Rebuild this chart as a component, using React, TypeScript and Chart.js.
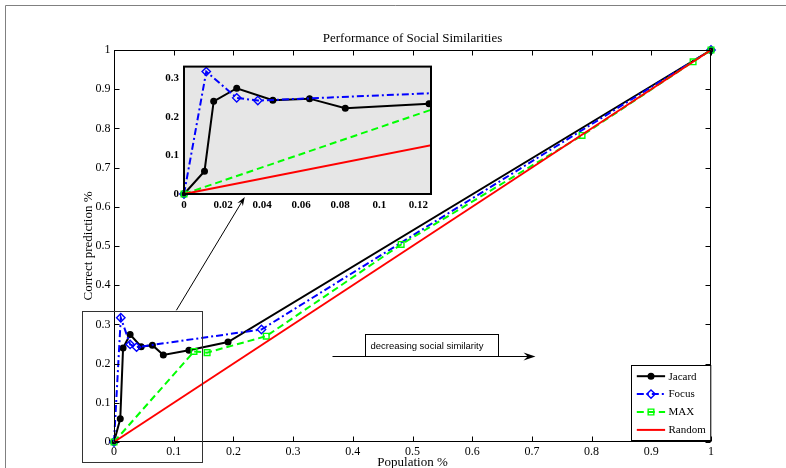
import React, { useEffect, useRef } from "react";
import { Chart, registerables } from "chart.js";

Chart.register(...registerables);

// ---------------- data ----------------
const seriesNames = ["Jacard", "Focus", "MAX", "Random"];

const jacardPop = [0, 0.0105, 0.0152, 0.027, 0.0455, 0.0643, 0.0826, 0.1255, 0.191, 1];
const jacardAcc = [0, 0.059, 0.24, 0.274, 0.243, 0.247, 0.222, 0.234, 0.255, 1];

const focusPop = [0, 0.0114, 0.027, 0.0378, 0.247, 1];
const focusAcc = [0, 0.317, 0.249, 0.242, 0.287, 1];

const maxPop = [0, 0.134, 0.156, 0.255, 0.481, 0.784, 0.97, 1];
const maxAcc = [0, 0.231, 0.228, 0.27, 0.504, 0.782, 0.97, 1];

const randomPop = [0, 1];
const randomAcc = [0, 1];

const mainTicks = [0, 0.1, 0.2, 0.3, 0.4, 0.5, 0.6, 0.7, 0.8, 0.9, 1];
const mainTickLabels = ["0", "0.1", "0.2", "0.3", "0.4", "0.5", "0.6", "0.7", "0.8", "0.9", "1"];
const insetXTicks = [0, 0.02, 0.04, 0.06, 0.08, 0.1, 0.12];
const insetXTickLabels = ["0", "0.02", "0.04", "0.06", "0.08", "0.1", "0.12"];
const insetYTicks = [0, 0.1, 0.2, 0.3];
const insetYTickLabels = ["0", "0.1", "0.2", "0.3"];

const chartTitle = "Performance of Social Similarities";
const xTitle = "Population %";
const yTitle = "Correct prediction %";
const noteText = "decreasing social similarity";

// ---------------- styles ----------------
const SERIF = "'Liberation Serif', 'Times New Roman', Times, serif";
const SANS = "'Liberation Sans', Arial, Helvetica, sans-serif";

type Sty = { color: string; dash: number[]; marker: string | null; r: number; fill: string };
const styles: Sty[] = [
  { color: "#000000", dash: [], marker: "circle", r: 2.8, fill: "#000000" },
  { color: "#0000ff", dash: [7, 3, 2, 3], marker: "rectRot", r: 4.2, fill: "rgba(0,0,0,0)" },
  { color: "#00ff00", dash: [7, 4], marker: "rect", r: 4, fill: "rgba(0,0,0,0)" },
  { color: "#ff0000", dash: [], marker: null, r: 0, fill: "rgba(0,0,0,0)" },
];

const seriesData: number[][][] = [
  [jacardPop, jacardAcc],
  [focusPop, focusAcc],
  [maxPop, maxAcc],
  [randomPop, randomAcc],
];

function buildDatasets(clip: any) {
  return seriesNames.map((name, i) => {
    const [xs, ys] = seriesData[i];
    const s = styles[i];
    return {
      label: name,
      data: xs.map((x, k) => ({ x, y: ys[k] })),
      borderColor: s.color,
      backgroundColor: s.fill,
      borderWidth: 2,
      borderDash: s.dash,
      pointStyle: s.marker || "circle",
      pointRadius: s.marker ? s.r : 0,
      pointHoverRadius: 0,
      pointBorderColor: s.color,
      pointBackgroundColor: s.fill,
      pointBorderWidth: 1.4,
      tension: 0,
      fill: false,
      clip,
      order: seriesNames.length - 1 - i,
    };
  });
}

function drawMarker(ctx: CanvasRenderingContext2D, s: Sty, x: number, y: number) {
  if (!s.marker) return;
  ctx.save();
  ctx.setLineDash([]);
  ctx.lineWidth = 1.4;
  ctx.strokeStyle = s.color;
  ctx.fillStyle = s.fill;
  ctx.beginPath();
  if (s.marker === "circle") {
    ctx.arc(x, y, s.r, 0, Math.PI * 2);
  } else if (s.marker === "rectRot") {
    ctx.moveTo(x, y - s.r);
    ctx.lineTo(x + s.r, y);
    ctx.lineTo(x, y + s.r);
    ctx.lineTo(x - s.r, y);
    ctx.closePath();
  } else {
    const h = s.r * Math.SQRT1_2;
    ctx.rect(x - h, y - h, 2 * h, 2 * h);
  }
  ctx.fill();
  ctx.stroke();
  ctx.restore();
}

function drawArrow(
  ctx: CanvasRenderingContext2D,
  x0: number, y0: number, x1: number, y1: number,
  head: number, half: number
) {
  const ang = Math.atan2(y1 - y0, x1 - x0);
  const c = Math.cos(ang);
  const s = Math.sin(ang);
  ctx.beginPath();
  ctx.moveTo(x0, y0);
  ctx.lineTo(x1 - c * head * 0.6, y1 - s * head * 0.6);
  ctx.stroke();
  ctx.beginPath();
  ctx.moveTo(x1, y1);
  ctx.lineTo(x1 - head * c + half * s, y1 - head * s - half * c);
  ctx.lineTo(x1 - head * 0.65 * c, y1 - head * 0.65 * s);
  ctx.lineTo(x1 - head * c - half * s, y1 - head * s + half * c);
  ctx.closePath();
  ctx.fill();
}

const mainDecor = {
  id: "mainDecor",
  beforeDraw(chart: any) {
    const ctx = chart.ctx as CanvasRenderingContext2D;
    ctx.save();
    ctx.strokeStyle = "#808080";
    ctx.lineWidth = 1;
    ctx.beginPath();
    ctx.moveTo(5.5, chart.height);
    ctx.lineTo(5.5, 5.5);
    ctx.lineTo(chart.width, 5.5);
    ctx.stroke();
    ctx.restore();
  },
  afterDatasetsDraw(chart: any) {
    const ctx = chart.ctx as CanvasRenderingContext2D;
    const a = chart.chartArea;
    const xs = chart.scales.x;
    const ys = chart.scales.y;
    const px = (v: number) => xs.getPixelForValue(v);
    const py = (v: number) => ys.getPixelForValue(v);
    ctx.save();
    ctx.setLineDash([]);
    // axes box
    ctx.strokeStyle = "#000";
    ctx.lineWidth = 1;
    const L = Math.round(a.left) + 0.5;
    const R = Math.round(a.right) - 0.5;
    const T = Math.round(a.top) + 0.5;
    const B = Math.round(a.bottom) - 0.5;
    ctx.strokeRect(L, T, R - L, B - T);
    // inward ticks
    const tl = 5;
    ctx.beginPath();
    mainTicks.forEach((v) => {
      const x = Math.round(px(v)) + 0.5;
      ctx.moveTo(x, B);
      ctx.lineTo(x, B - tl);
      ctx.moveTo(x, T);
      ctx.lineTo(x, T + tl);
      const y = Math.round(py(v)) + 0.5;
      ctx.moveTo(L, y);
      ctx.lineTo(L + tl, y);
      ctx.moveTo(R, y);
      ctx.lineTo(R - tl, y);
    });
    ctx.stroke();

    // zoom rectangle
    ctx.strokeStyle = "#333";
    ctx.lineWidth = 1;
    const zx0 = Math.round(px(-0.054)) + 0.5;
    const zx1 = Math.round(px(0.147)) + 0.5;
    const zy0 = Math.round(py(0.333)) + 0.5;
    const zy1 = Math.round(py(-0.052)) + 0.5;
    ctx.strokeRect(zx0, zy0, zx1 - zx0, zy1 - zy0);

    // zoom arrow
    ctx.strokeStyle = "#000";
    ctx.fillStyle = "#000";
    ctx.lineWidth = 1;
    drawArrow(ctx, px(0.1045), py(0.336), px(0.219), py(0.625), 9, 3.2);

    // decreasing arrow + text box
    const ay = Math.round(py(0.219)) + 0.5;
    drawArrow(ctx, px(0.366), ay, px(0.706), ay, 12, 4);
    const bx0 = Math.round(px(0.42)) + 0.5;
    const bx1 = Math.round(px(0.644)) + 0.5;
    const by0 = Math.round(py(0.276)) + 0.5;
    ctx.fillStyle = "#fff";
    ctx.fillRect(bx0, by0, bx1 - bx0, ay - by0);
    ctx.strokeStyle = "#000";
    ctx.strokeRect(bx0, by0, bx1 - bx0, ay - by0);
    ctx.fillStyle = "#000";
    ctx.font = `9.5px ${SANS}`;
    ctx.textAlign = "left";
    ctx.textBaseline = "middle";
    ctx.fillText(noteText, bx0 + 5, (by0 + ay) / 2 + 0.5);

    // legend
    const lw = 79.3;
    const lh = 75;
    const lx = Math.round(a.right - 80.3) + 0.5;
    const ly = Math.round(a.bottom - 77) + 0.5;
    ctx.fillStyle = "#fff";
    ctx.fillRect(lx, ly, lw, lh);
    ctx.strokeStyle = "#000";
    ctx.lineWidth = 1;
    ctx.strokeRect(lx, ly, lw, lh);
    ctx.font = `11px ${SERIF}`;
    ctx.textBaseline = "middle";
    ctx.textAlign = "left";
    seriesNames.forEach((name, i) => {
      const s = styles[i];
      const yy = ly + 10.7 + i * 17.9;
      ctx.save();
      ctx.strokeStyle = s.color;
      ctx.lineWidth = 2;
      ctx.setLineDash(s.dash);
      ctx.beginPath();
      ctx.moveTo(lx + 5.3, yy);
      ctx.lineTo(lx + 33.6, yy);
      ctx.stroke();
      ctx.restore();
      drawMarker(ctx, s, lx + 19.5, yy);
      ctx.fillStyle = "#000";
      ctx.fillText(name, lx + 37, yy + 0.5);
    });
    ctx.restore();
  },
};

const insetDecor = {
  id: "insetDecor",
  beforeDatasetsDraw(chart: any) {
    const ctx = chart.ctx as CanvasRenderingContext2D;
    const a = chart.chartArea;
    ctx.save();
    ctx.fillStyle = "#e6e6e6";
    ctx.fillRect(a.left, a.top, a.right - a.left, a.bottom - a.top);
    ctx.restore();
  },
  afterDatasetsDraw(chart: any) {
    const ctx = chart.ctx as CanvasRenderingContext2D;
    const a = chart.chartArea;
    ctx.save();
    ctx.setLineDash([]);
    ctx.strokeStyle = "#000";
    ctx.lineWidth = 2;
    ctx.strokeRect(a.left, a.top, a.right - a.left, a.bottom - a.top);
    ctx.restore();
  },
};

export default function App() {
  const mainRef = useRef<HTMLCanvasElement | null>(null);
  const insetRef = useRef<HTMLCanvasElement | null>(null);

  useEffect(() => {
    const tickFont = { family: SERIF, size: 12, weight: "normal" as const };
    const main = new Chart(mainRef.current as HTMLCanvasElement, {
      type: "line",
      data: { datasets: buildDatasets(false) as any },
      options: {
        animation: false,
        responsive: false,
        maintainAspectRatio: false,
        events: [],
        layout: { padding: { left: 0, right: 75, top: 0, bottom: 0 } },
        plugins: {
          legend: { display: false },
          tooltip: { enabled: false },
          title: {
            display: true,
            text: chartTitle,
            color: "#000",
            fullSize: false,
            font: { family: SERIF, size: 13, weight: "normal" },
            padding: { top: 30.5, bottom: 3.9 },
          },
        },
        scales: {
          x: {
            type: "linear",
            min: 0,
            max: 1,
            afterFit: (s: any) => {
              s.height = 26;
            },
            afterBuildTicks: (s: any) => {
              s.ticks = mainTicks.map((v) => ({ value: v }));
            },
            ticks: {
              callback: (_v: any, i: number) => mainTickLabels[i],
              color: "#000",
              font: tickFont,
              padding: 3,
              maxRotation: 0,
              autoSkip: false,
            },
            grid: { display: false, drawTicks: false },
            border: { display: false },
            title: {
              display: true,
              text: xTitle,
              color: "#000",
              font: { family: SERIF, size: 13, weight: "normal" },
              padding: { top: 0, bottom: -2.5 },
            },
          },
          y: {
            type: "linear",
            min: 0,
            max: 1,
            afterFit: (s: any) => {
              s.width = 114;
            },
            afterBuildTicks: (s: any) => {
              s.ticks = mainTicks.map((v) => ({ value: v }));
            },
            ticks: {
              callback: (_v: any, i: number) => mainTickLabels[i],
              color: "#000",
              font: tickFont,
              padding: 3.5,
              autoSkip: false,
            },
            grid: { display: false, drawTicks: false },
            border: { display: false },
            title: {
              display: true,
              text: yTitle,
              color: "#000",
              font: { family: SERIF, size: 13, weight: "normal" },
              padding: { top: 80.5, bottom: 0 },
            },
          },
        },
      } as any,
      plugins: [mainDecor],
    });

    const insetFont = { family: SERIF, size: 11, weight: "bold" as const };
    const inset = new Chart(insetRef.current as HTMLCanvasElement, {
      type: "line",
      data: { datasets: buildDatasets({ left: 6, bottom: 6, top: 0, right: 0 }) as any },
      options: {
        animation: false,
        responsive: false,
        maintainAspectRatio: false,
        events: [],
        layout: { padding: { left: 0, right: 9, top: 10, bottom: 0 } },
        plugins: {
          legend: { display: false },
          tooltip: { enabled: false },
          title: { display: false },
        },
        scales: {
          x: {
            type: "linear",
            min: 0,
            max: 0.1265,
            afterFit: (s: any) => {
              s.height = 31;
            },
            afterBuildTicks: (s: any) => {
              s.ticks = insetXTicks.map((v) => ({ value: v }));
            },
            ticks: {
              callback: (_v: any, i: number) => insetXTickLabels[i],
              color: "#000",
              font: insetFont,
              padding: 4.5,
              maxRotation: 0,
              autoSkip: false,
            },
            grid: { display: false, drawTicks: false },
            border: { display: false },
          },
          y: {
            type: "linear",
            min: 0,
            max: 0.33,
            afterFit: (s: any) => {
              s.width = 34;
            },
            afterBuildTicks: (s: any) => {
              s.ticks = insetYTicks.map((v) => ({ value: v }));
            },
            ticks: {
              callback: (_v: any, i: number) => insetYTickLabels[i],
              color: "#000",
              font: insetFont,
              padding: 5,
              autoSkip: false,
            },
            grid: { display: false, drawTicks: false },
            border: { display: false },
          },
        },
      } as any,
      plugins: [insetDecor],
    });

    return () => {
      main.destroy();
      inset.destroy();
    };
  }, []);

  return (
    <div style={{ position: "absolute", left: 0, top: 0, width: 786, height: 468, background: "#fff" }}>
      <canvas
        ref={mainRef}
        width={786}
        height={468}
        style={{ position: "absolute", left: 0, top: 0, width: 786, height: 468, display: "block" }}
      />
      <canvas
        ref={insetRef}
        width={290}
        height={170}
        style={{ position: "absolute", left: 150, top: 55, width: 290, height: 170, display: "block" }}
      />
    </div>
  );
}
